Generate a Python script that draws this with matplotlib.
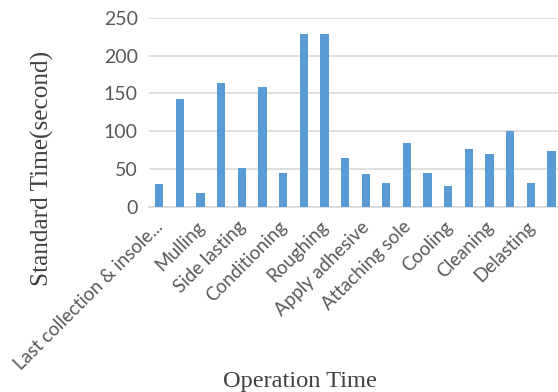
import matplotlib
matplotlib.use("Agg")
import matplotlib.pyplot as plt
from matplotlib.transforms import ScaledTranslation

labels = ["Last collection & insole...", "", "Mulling", "", "Side lasting", "",
          "Conditioning", "", "Roughing", "", "Apply adhesive", "",
          "Attaching sole", "", "Cooling", "", "Cleaning", "", "Delasting", ""]
values = [30, 142, 18, 164, 52, 159, 45, 229, 229, 65,
          44, 32, 85, 45, 28, 77, 70, 101, 32, 74]
yticks = [0, 50, 100, 150, 200, 250]

fig = plt.figure(figsize=(5.58, 3.92), dpi=100)
ax = fig.add_axes([149/558, 1-207/392, 1-149/558, (207-17.7)/392])
x = list(range(len(values)))
ax.bar(x, values, width=0.4, color="#5B9BD5", zorder=3)
ax.set_xlim(-0.5, 19.32)
ax.set_ylim(0, 250)
ax.set_yticks(yticks)
ax.set_yticklabels([str(v) for v in yticks], fontfamily="Lato", fontsize=14, color="#595959")
ax.set_xticks(x)
ax.set_xticklabels(labels, rotation=45, ha="right", va="baseline", rotation_mode="anchor",
                   fontfamily="Lato", fontsize=13.5, color="#595959")
ax.tick_params(axis="y", length=0, pad=8)
ax.tick_params(axis="x", length=0, pad=0)
off = ScaledTranslation(0.05, -0.21, fig.dpi_scale_trans)
for t in ax.get_xticklabels():
    t.set_transform(t.get_transform() + off)
ax.grid(axis="y", color="#D9D9D9", linewidth=1.2, zorder=0)
for s in ["top", "right", "left"]:
    ax.spines[s].set_visible(False)
ax.spines["bottom"].set_color("#D9D9D9")
ax.spines["bottom"].set_linewidth(1.2)
fig.text(42/558, 1-168.5/392, "Standard Time(second)", fontfamily="Liberation Serif", fontsize=18.2,
         color="#404040", rotation=90, ha="center", va="center")
fig.text(300/558, 1-387/392, "Operation Time", fontfamily="Liberation Serif", fontsize=17.6,
         color="#404040", ha="center", va="baseline")
fig.savefig("out.png", dpi=100)
